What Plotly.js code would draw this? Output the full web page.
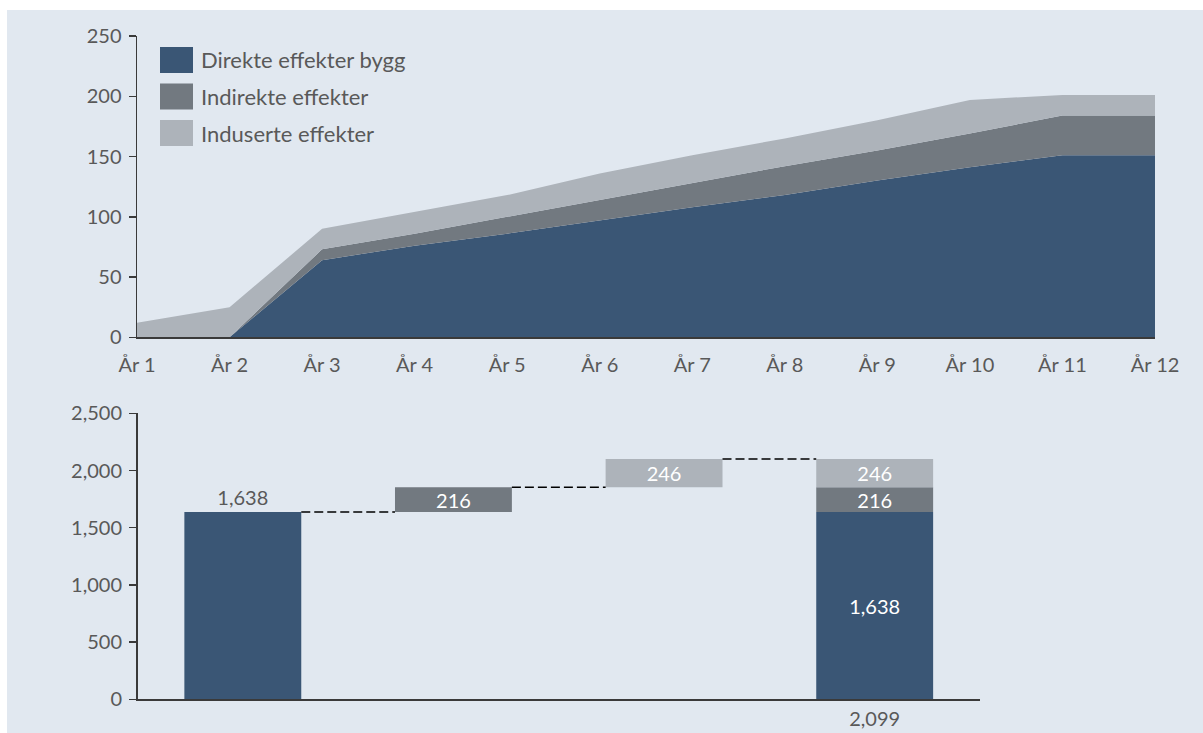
<!DOCTYPE html>
<html>
<head>
<meta charset="utf-8">
<script src="https://cdn.plot.ly/plotly-3.0.1.min.js"></script>
<style>
  html, body { margin: 0; padding: 0; background: #ffffff; }
  #chart { width: 1203px; height: 733px; }
</style>
</head>
<body>
<div id="chart"></div>
<script>
// Annual effects (stacked area)
const years = ['År 1', 'År 2', 'År 3', 'År 4', 'År 5', 'År 6', 'År 7', 'År 8', 'År 9', 'År 10', 'År 11', 'År 12'];
const direct   = [0, 0, 64, 76, 86, 97, 108, 118, 130, 141, 151, 151];
const indirect = [0, 0, 9, 10, 14, 17, 20, 24, 25, 28, 33, 33];
const induced  = [12, 25, 17, 18, 18, 22, 23, 23, 25, 28, 17, 17];
const seriesNames = ['Direkte effekter bygg', 'Indirekte effekter', 'Induserte effekter'];

// Accumulated effects (bridge)
const steps = ['Direkte', 'Indirekte', 'Induserte', 'Totalt'];
const stepValues = [1638, 216, 246];
const stepLabels = ['1,638', '216', '246'];
const totalLabel = '2,099';

const W = 1203, H = 733;
const colors = ['#3a5675', '#727980', '#adb3ba'];
const panelColor = '#e1e8f0';
const textColor = '#595959';
const axisColor = '#3a3a3a';
const FONT = 'Lato, "Open Sans", sans-serif';

// pixel -> paper helpers
const px = x => x / W;
const py = y => 1 - y / H;

const seriesData = [direct, indirect, induced];
const traces = [];

seriesData.forEach((vals, i) => {
  traces.push({
    type: 'scatter',
    mode: 'lines',
    x: years,
    y: vals,
    name: seriesNames[i],
    stackgroup: 'annual',
    fillcolor: colors[i],
    line: { width: 0, color: colors[i] },
    xaxis: 'x', yaxis: 'y',
    hoverinfo: 'x+y+name'
  });
});

// Bridge: each component floats on the running sum, then all stack in the total column
const bases = [];
let run = 0;
stepValues.forEach(v => { bases.push(run); run += v; });

stepValues.forEach((v, i) => {
  traces.push({
    type: 'bar',
    x: [steps[i], steps[3]],
    y: [v, v],
    base: [bases[i], bases[i]],
    marker: { color: colors[i], line: { width: 0 } },
    text: [stepLabels[i], stepLabels[i]],
    textposition: i === 0 ? ['outside', 'inside'] : ['inside', 'inside'],
    insidetextanchor: 'middle',
    constraintext: 'none',
    insidetextfont: { family: FONT, size: 20, color: '#ffffff' },
    outsidetextfont: { family: FONT, size: 20, color: textColor },
    cliponaxis: false,
    xaxis: 'x2', yaxis: 'y2',
    showlegend: false,
    hoverinfo: 'y'
  });
});

const barWidth = 0.555;
const shapes = [
  // panel background
  { type: 'rect', xref: 'paper', yref: 'paper', x0: px(7), x1: 1, y0: 0, y1: py(10),
    fillcolor: panelColor, line: { width: 0 }, layer: 'below' }
];

// dashed connectors between bridge steps
for (let i = 0; i < 3; i++) {
  const level = bases[i] + stepValues[i];
  shapes.push({
    type: 'line', xref: 'x2', yref: 'y2',
    x0: i + barWidth / 2, x1: i + 1 - barWidth / 2,
    y0: level, y1: level,
    line: { color: '#000000', width: 1.5, dash: '9px,4px' }
  });
}

// legend keys
const annotations = [];
const legendTop = [47, 83.5, 120];
seriesNames.forEach((name, i) => {
  shapes.push({
    type: 'rect', xref: 'paper', yref: 'paper',
    x0: px(160), x1: px(193), y0: py(legendTop[i] + 26), y1: py(legendTop[i]),
    fillcolor: colors[i], line: { width: 0 }
  });
  annotations.push({
    xref: 'paper', yref: 'paper',
    x: px(199), y: py(legendTop[i] + 13),
    xanchor: 'left', yanchor: 'middle',
    text: name, showarrow: false,
    font: { family: FONT, size: 22, color: textColor }
  });
});

const layout = {
  width: W, height: H,
  margin: { l: 0, r: 0, t: 0, b: 0 },
  paper_bgcolor: '#ffffff',
  plot_bgcolor: 'rgba(0,0,0,0)',
  showlegend: false,
  font: { family: FONT, size: 20, color: textColor },
  barmode: 'overlay',
  bargap: 1 - barWidth,
  xaxis: {
    type: 'category',
    domain: [px(137), px(1155)],
    range: [0, 11],
    showline: true, linecolor: axisColor, linewidth: 1.5,
    ticks: '', showgrid: false, zeroline: false,
    ticklabelstandoff: 9,
    tickfont: { family: FONT, size: 20, color: textColor },
    anchor: 'y'
  },
  yaxis: {
    domain: [py(337.3), py(36)],
    range: [0, 250],
    dtick: 50, tick0: 0,
    showline: true, linecolor: axisColor, linewidth: 1.5,
    ticks: 'outside', ticklen: 7, tickcolor: axisColor, tickwidth: 1.5,
    showgrid: false, zeroline: false,
    ticklabelstandoff: 3,
    tickfont: { family: FONT, size: 20, color: textColor },
    anchor: 'x'
  },
  xaxis2: {
    type: 'category',
    categoryorder: 'array', categoryarray: steps,
    domain: [px(137.5), px(980)],
    range: [-0.5, 3.5],
    showline: true, linecolor: axisColor, linewidth: 1.5,
    ticks: '', showgrid: false, zeroline: false,
    tickmode: 'array', tickvals: [steps[3]], ticktext: [totalLabel],
    ticklabelstandoff: 1,
    tickfont: { family: FONT, size: 20, color: textColor },
    anchor: 'y2'
  },
  yaxis2: {
    domain: [py(699.3), py(413.3)],
    range: [0, 2500],
    dtick: 500, tick0: 0,
    tickformat: ',d',
    showline: true, linecolor: axisColor, linewidth: 1.5,
    ticks: 'outside', ticklen: 7, tickcolor: axisColor, tickwidth: 1.5,
    showgrid: false, zeroline: false,
    ticklabelstandoff: 3,
    tickfont: { family: FONT, size: 20, color: textColor },
    anchor: 'x2'
  },
  shapes: shapes,
  annotations: annotations
};

Plotly.newPlot('chart', traces, layout, { displayModeBar: false, staticPlot: true });
</script>
</body>
</html>
